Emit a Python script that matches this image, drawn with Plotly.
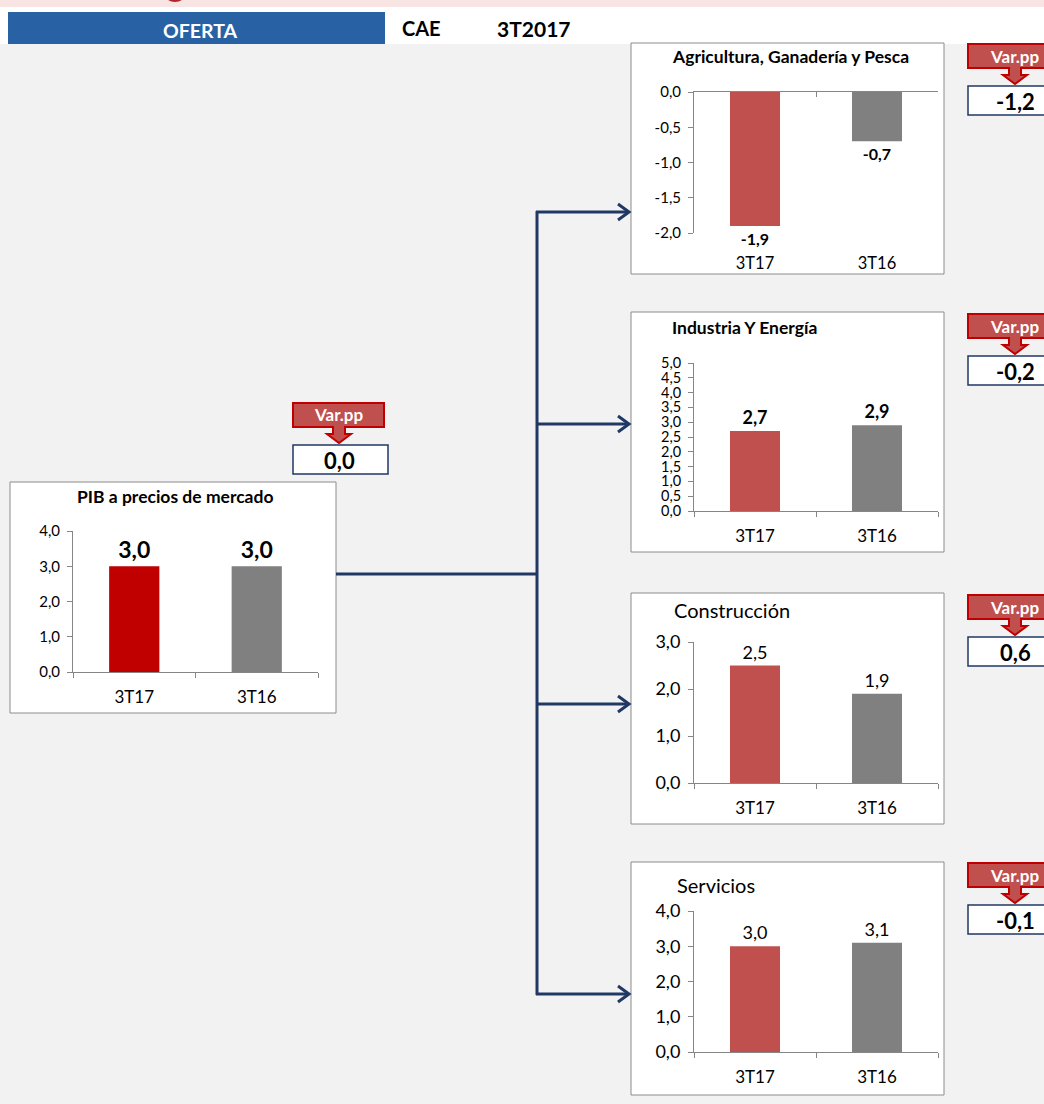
import plotly.graph_objects as go

W, H = 1044, 1104

# ---- data -------------------------------------------------------------
categorias = ["3T17", "3T16"]

pib = [3.0, 3.0]
agricultura = [-1.9, -0.7]
industria = [2.7, 2.9]
construccion = [2.5, 1.9]
servicios = [3.0, 3.1]

ticks_pib = [0.0, 1.0, 2.0, 3.0, 4.0]
ticks_agricultura = [0.0, -0.5, -1.0, -1.5, -2.0]
ticks_industria = [0.0, 0.5, 1.0, 1.5, 2.0, 2.5, 3.0, 3.5, 4.0, 4.5, 5.0]
ticks_construccion = [0.0, 1.0, 2.0, 3.0]
ticks_servicios = [0.0, 1.0, 2.0, 3.0, 4.0]

titulo_cabecera = "OFERTA"
region = "CAE"
periodo = "3T2017"

# ---- helpers ----------------------------------------------------------
FONT = "Lato"
ROJO = "#c0504d"
ROJO_OSCURO = "#c00000"
GRIS = "#808080"
EJE = "#868686"
AZUL = "#1f3864"


def px(x):
    return x / W


def py(y):
    return 1 - y / H


def coma(v):
    return f"{v:.1f}".replace(".", ",")


# panel layout: plot area (x0, x1, y0, y1) and surrounding box, in pixels
paneles = [
    dict(valores=pib, ticks=ticks_pib, rango=[0, 4], colores=[ROJO_OSCURO, GRIS],
         area=(73, 318, 531, 672), caja=(10, 336, 482, 713),
         titulo="PIB a precios de mercado", tpos=(175, 496), tanchor="center",
         tsize=17.5, tbold=True, ticksize=15, catsize=17, lsize=23, lbold=True),
    dict(valores=agricultura, ticks=ticks_agricultura, rango=[-2, 0], colores=[ROJO, GRIS],
         area=(694, 938, 92, 233), caja=(631, 944, 43, 274),
         titulo="Agricultura, Ganadería y Pesca", tpos=(790, 57), tanchor="center",
         tsize=17.5, tbold=True, ticksize=15, catsize=16.5, lsize=16, lbold=True,
         arriba=True),
    dict(valores=industria, ticks=ticks_industria, rango=[0, 5], colores=[ROJO, GRIS],
         area=(694, 938, 363, 511), caja=(631, 944, 312, 552),
         titulo="Industria Y Energía", tpos=(670, 327), tanchor="left",
         tsize=17.5, tbold=True, ticksize=14.5, catsize=17, lsize=18, lbold=True),
    dict(valores=construccion, ticks=ticks_construccion, rango=[0, 3], colores=[ROJO, GRIS],
         area=(694, 938, 642, 783), caja=(631, 944, 593, 824),
         titulo="Construcción", tpos=(672, 610), tanchor="left",
         tsize=20, tbold=False, ticksize=18, catsize=17, lsize=18, lbold=False),
    dict(valores=servicios, ticks=ticks_servicios, rango=[0, 4], colores=[ROJO, GRIS],
         area=(694, 938, 911, 1052), caja=(631, 944, 862, 1095),
         titulo="Servicios", tpos=(675, 885), tanchor="left",
         tsize=20, tbold=False, ticksize=18, catsize=17, lsize=18, lbold=False),
]

fig = go.Figure()
layout = dict(
    width=W, height=H, margin=dict(l=0, r=0, t=0, b=0, autoexpand=False),
    paper_bgcolor="#f2f2f2", plot_bgcolor="rgba(0,0,0,0)",
    font=dict(family=FONT, color="#000000"),
    bargap=0.59, showlegend=False, separators=",.",
)
shapes = []
annotations = []


def texto(t, x, y, size, color="black", bold=True, xanchor="center"):
    annotations.append(dict(text=t, x=px(x), y=py(y), xref="paper", yref="paper",
                            xanchor=xanchor, yanchor="middle", showarrow=False,
                            font=dict(size=size, color=color,
                                      weight="bold" if bold else "normal")))


# page header band
shapes.append(dict(type="rect", xref="paper", yref="paper", x0=px(0), x1=px(W),
                   y0=py(0), y1=py(7), fillcolor="#f9e4e4", line_width=0, layer="below"))
shapes.append(dict(type="circle", xref="paper", yref="paper", x0=px(162), x1=px(188),
                   y0=py(-24), y1=py(2), fillcolor="#b3262b", line_width=0, layer="below"))
shapes.append(dict(type="rect", xref="paper", yref="paper", x0=px(0), x1=px(W),
                   y0=py(7), y1=py(44), fillcolor="#ffffff", line_width=0, layer="below"))
shapes.append(dict(type="rect", xref="paper", yref="paper", x0=px(8), x1=px(385),
                   y0=py(12), y1=py(44), fillcolor="#2862a5", line_width=0, layer="below"))
texto(titulo_cabecera, 200, 30, 19.5, color="white")
texto(region, 421, 28, 20)
texto(periodo, 534, 28, 21)

for i, p in enumerate(paneles, start=1):
    xa = "x" if i == 1 else f"x{i}"
    ya = "y" if i == 1 else f"y{i}"
    xk = "xaxis" if i == 1 else f"xaxis{i}"
    yk = "yaxis" if i == 1 else f"yaxis{i}"
    x0, x1, y0, y1 = p["area"]
    arriba = p.get("arriba", False)

    # white chart box
    bx0, bx1, by0, by1 = p["caja"]
    shapes.append(dict(type="rect", xref="paper", yref="paper", x0=px(bx0), x1=px(bx1),
                       y0=py(by0), y1=py(by1), fillcolor="white",
                       line=dict(color="#8c8c8c", width=1), layer="below"))

    fig.add_trace(go.Bar(
        x=categorias, y=p["valores"], xaxis=xa, yaxis=ya,
        marker=dict(color=p["colores"], line_width=0),
        text=[coma(v) for v in p["valores"]], textposition="outside",
        textfont=dict(size=p["lsize"], color="black",
                      weight="bold" if p["lbold"] else "normal", family=FONT),
        cliponaxis=False, constraintext="none", hoverinfo="skip",
    ))

    layout[xk] = dict(
        domain=[px(x0), px(x1)], anchor=ya, type="category",
        categoryorder="array", categoryarray=categorias, range=[-0.5, 1.5],
        showline=not arriba, linecolor=EJE, linewidth=1,
        ticks="" if arriba else "outside", tickson="boundaries", ticklen=5,
        tickcolor=EJE, tickfont=dict(size=p["catsize"], color="black"),
        ticklabelstandoff=18 if arriba else 10,
        showgrid=False, zeroline=False, fixedrange=True,
    )
    layout[yk] = dict(
        domain=[py(y1), py(y0)], anchor=xa, range=p["rango"],
        tickvals=p["ticks"], ticktext=[coma(t) for t in p["ticks"]],
        showline=True, linecolor=EJE, linewidth=1, ticks="outside", ticklen=5,
        tickcolor=EJE, tickfont=dict(size=p["ticksize"], color="black"),
        ticklabelstandoff=4,
        showgrid=False, zeroline=False, fixedrange=True,
    )

    if arriba:
        # horizontal axis line crossing at zero, along the top of the plot
        fig.add_trace(go.Scatter(x=categorias, y=p["valores"], xaxis="x6", yaxis=ya,
                                 mode="markers", marker=dict(opacity=0), hoverinfo="skip"))
        layout["xaxis6"] = dict(
            domain=[px(x0), px(x1)], anchor=ya, side="top", type="category",
            categoryorder="array", categoryarray=categorias, range=[-0.5, 1.5],
            showline=True, linecolor=EJE, linewidth=1, ticks="inside",
            tickson="boundaries", ticklen=5, tickcolor=EJE, showticklabels=False,
            showgrid=False, zeroline=False, fixedrange=True,
        )

    tx, ty = p["tpos"]
    texto(p["titulo"], tx, ty, p["tsize"], bold=p["tbold"], xanchor=p["tanchor"])


# ---- connectors -------------------------------------------------------
def linea(xa_, ya_, xb, yb):
    shapes.append(dict(type="line", xref="paper", yref="paper", x0=px(xa_), y0=py(ya_),
                       x1=px(xb), y1=py(yb), line=dict(color=AZUL, width=3)))


linea(336, 574, 538, 574)
linea(537, 211, 537, 995)
for yy in [212, 424, 704, 994]:
    linea(536, yy, 628, yy)
    shapes.append(dict(type="path", xref="paper", yref="paper",
                       path=(f"M{px(618)},{py(yy - 8)} L{px(629)},{py(yy)} "
                             f"L{px(618)},{py(yy + 8)}"),
                       line=dict(color=AZUL, width=3)))


# ---- "Var.pp" call-outs ----------------------------------------------
def callout(cx, top, x0, x1, valor):
    y1 = top + 24
    path = (f"M{px(x0)},{py(top)} L{px(x1)},{py(top)} L{px(x1)},{py(y1)} "
            f"L{px(cx + 6)},{py(y1)} L{px(cx + 6)},{py(y1 + 7)} L{px(cx + 12)},{py(y1 + 7)} "
            f"L{px(cx)},{py(y1 + 16)} L{px(cx - 12)},{py(y1 + 7)} L{px(cx - 6)},{py(y1 + 7)} "
            f"L{px(cx - 6)},{py(y1)} L{px(x0)},{py(y1)} Z")
    shapes.append(dict(type="path", xref="paper", yref="paper", path=path,
                       fillcolor=ROJO, line=dict(color=ROJO_OSCURO, width=2)))
    shapes.append(dict(type="rect", xref="paper", yref="paper", x0=px(x0), x1=px(x1 + 4),
                       y0=py(top + 42), y1=py(top + 71), fillcolor="white",
                       line=dict(color=AZUL, width=1.5)))
    texto("Var.pp", cx, top + 12, 17, color="white")
    texto(coma(valor), cx, top + 57, 22)


callout(339, 403, 293, 384, round(pib[0] - pib[1], 1))
for serie, top in [(agricultura, 44), (industria, 314), (construccion, 595), (servicios, 863)]:
    callout(1015, top, 968, 1062, round(serie[0] - serie[1], 1))

layout["shapes"] = shapes
layout["annotations"] = annotations
fig.update_layout(**layout)

fig.write_html("out.html")
